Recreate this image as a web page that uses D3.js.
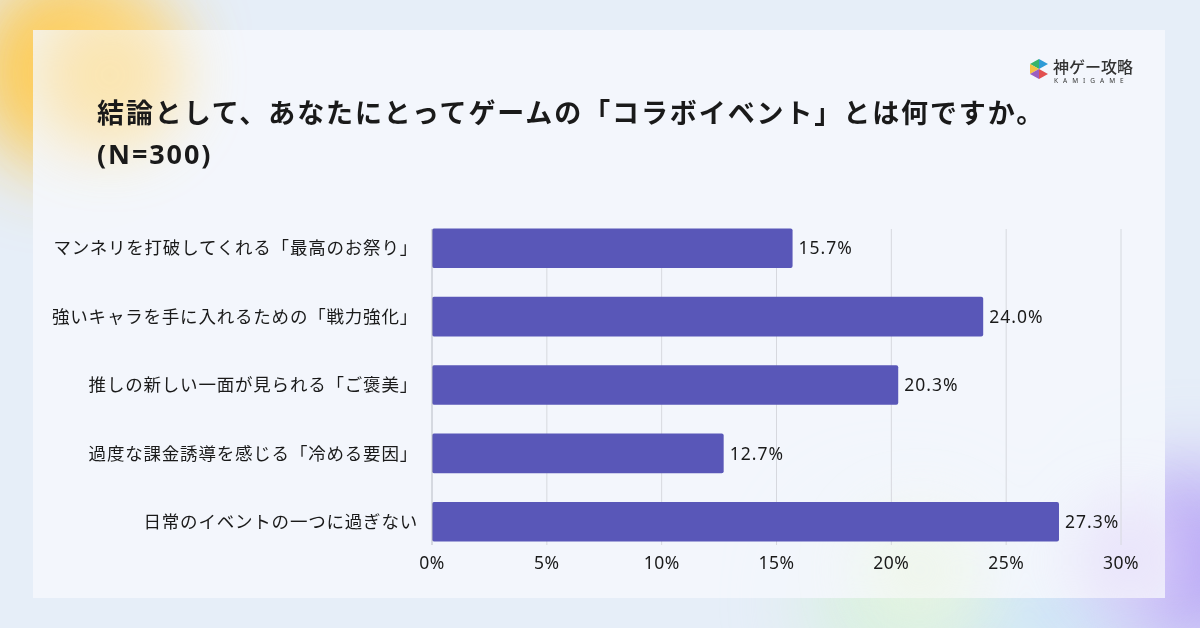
<!DOCTYPE html>
<html><head><meta charset="utf-8">
<script src="https://cdn.jsdelivr.net/npm/d3@7"></script>
<style>body{margin:0;overflow:hidden}svg{display:block}</style>
</head><body><svg></svg>
<script>
const width = 1200, height = 628

// data
const categories = [
  "マンネリを打破してくれる「最高のお祭り」",
  "強いキャラを手に入れるための「戦力強化」",
  "推しの新しい一面が見られる「ご褒美」",
  "過度な課金誘導を感じる「冷める要因」",
  "日常のイベントの一つに過ぎない"
]
const values = [15.7, 24.0, 20.3, 12.7, 27.3]
const ticks = [0, 5, 10, 15, 20, 25, 30]
const titleLines = ["結論として、あなたにとってゲームの「コラボイベント」とは何ですか。", "(N=300)"]

const font = "'Noto Sans', 'Noto Sans CJK JP', sans-serif"

const svg = d3.select("svg").attr("width", width).attr("height", height)
const defs = svg.append("defs")

// blurred background blobs
const blur = defs.append("filter").attr("id", "blur").attr("x", "-50%").attr("y", "-50%").attr("width", "200%").attr("height", "200%")
blur.append("feGaussianBlur").attr("stdDeviation", 40)

svg.append("rect").attr("width", width).attr("height", height).attr("fill", "#e6eef8")
const blobs = svg.append("g").attr("filter", "url(#blur)")
blobs.append("circle").attr("cx", 70).attr("cy", 70).attr("r", 95).attr("fill", "#ffc53d").attr("opacity", 0.95)
blobs.append("circle").attr("cx", 1190).attr("cy", 560).attr("r", 90).attr("fill", "#b7a6f5")
blobs.append("circle").attr("cx", 900).attr("cy", 600).attr("r", 90).attr("fill", "#d8f0e0")
blobs.append("circle").attr("cx", 1050).attr("cy", 620).attr("r", 70).attr("fill", "#cfe6f7")

// card
const cardBlur = defs.append("filter").attr("id", "cardblur").attr("x", "-50%").attr("y", "-50%").attr("width", "200%").attr("height", "200%")
cardBlur.append("feGaussianBlur").attr("stdDeviation", 30)
svg.append("rect").attr("x", 33).attr("y", 30).attr("width", 1132).attr("height", 568)
  .attr("fill", "#f3f6fc").attr("opacity", 0.93)
const cardTint = svg.append("g").attr("filter", "url(#cardblur)").attr("opacity", 0.6)
cardTint.append("circle").attr("cx", 110).attr("cy", 75).attr("r", 75).attr("fill", "#ffdc8a")
cardTint.append("circle").attr("cx", 1130).attr("cy", 560).attr("r", 60).attr("fill", "#e6dcfa")
cardTint.append("circle").attr("cx", 920).attr("cy", 570).attr("r", 60).attr("fill", "#eef6e4")

// title
svg.append("g").selectAll("text")
  .data(titleLines)
  .join("text")
  .attr("x", 97)
  .attr("y", (d, i) => 123 + i * 41)
  .attr("font-family", font)
  .attr("font-size", 27)
  .attr("font-weight", 700)
  .attr("letter-spacing", 1.9)
  .attr("fill", "#1a1a1a")
  .text(d => d)

// logo
const logo = svg.append("g").attr("transform", "translate(1030,59)")
logo.append("path").attr("d", "M9,0 L18,5 L9,10 Z").attr("fill", "#2e9bd6")
logo.append("path").attr("d", "M9,0 L0,5 L9,10 Z").attr("fill", "#38b36a")
logo.append("path").attr("d", "M0,5 L9,10 L0,15 Z").attr("fill", "#f5c242")
logo.append("path").attr("d", "M9,10 L18,15 L9,20 Z").attr("fill", "#e2504f")
logo.append("path").attr("d", "M0,15 L9,10 L9,20 Z").attr("fill", "#9b5fc0")
logo.append("text").attr("x", 23).attr("y", 14).attr("font-family", font).attr("font-size", 16)
  .attr("font-weight", 500).attr("fill", "#333").text("神ゲー攻略")
logo.append("text").attr("x", 24).attr("y", 24).attr("font-family", font).attr("font-size", 6.5)
  .attr("letter-spacing", 5).attr("fill", "#333").text("KAMIGAME")

// chart
const margin = {left: 432, right: 79, top: 225, bottom: 83}
const x = d3.scaleLinear().domain([0, 30]).range([margin.left, width - margin.right])
const y = d3.scaleBand().domain(categories).range([margin.top, height - margin.bottom]).paddingInner(0.42).paddingOuter(0.05)

svg.append("g").selectAll("line")
  .data(ticks.slice(1))
  .join("line")
  .attr("x1", d => x(d)).attr("x2", d => x(d))
  .attr("y1", margin.top + 4).attr("y2", height - margin.bottom)
  .attr("stroke", "#d6d8de").attr("stroke-width", 1)

svg.append("g").selectAll("rect")
  .data(values)
  .join("rect")
  .attr("x", x(0))
  .attr("y", (d, i) => y(categories[i]))
  .attr("width", d => x(d) - x(0))
  .attr("height", y.bandwidth())
  .attr("rx", 2)
  .attr("fill", "#5957b8")

svg.append("line")
  .attr("x1", x(0)).attr("x2", x(0))
  .attr("y1", margin.top + 4).attr("y2", height - margin.bottom)
  .attr("stroke", "#b8bac4")

svg.append("g").selectAll("text")
  .data(values)
  .join("text")
  .attr("x", d => x(d) + 6)
  .attr("y", (d, i) => y(categories[i]) + y.bandwidth() / 2)
  .attr("dy", "0.35em")
  .attr("font-family", font).attr("font-size", 17.5).attr("letter-spacing", 1)
  .attr("fill", "#1a1a1a")
  .text(d => d.toFixed(1) + "%")

svg.append("g").selectAll("text")
  .data(categories)
  .join("text")
  .attr("x", 418)
  .attr("y", d => y(d) + y.bandwidth() / 2)
  .attr("dy", "0.35em")
  .attr("text-anchor", "end")
  .attr("font-family", font).attr("font-size", 17.5).attr("letter-spacing", 0.8)
  .attr("fill", "#1a1a1a")
  .text(d => d)

svg.append("g").selectAll("text")
  .data(ticks)
  .join("text")
  .attr("x", d => x(d))
  .attr("y", 569)
  .attr("text-anchor", "middle")
  .attr("font-family", font).attr("font-size", 17.5).attr("letter-spacing", 0.5)
  .attr("fill", "#1a1a1a")
  .text(d => d + "%")
</script>
</body></html>
